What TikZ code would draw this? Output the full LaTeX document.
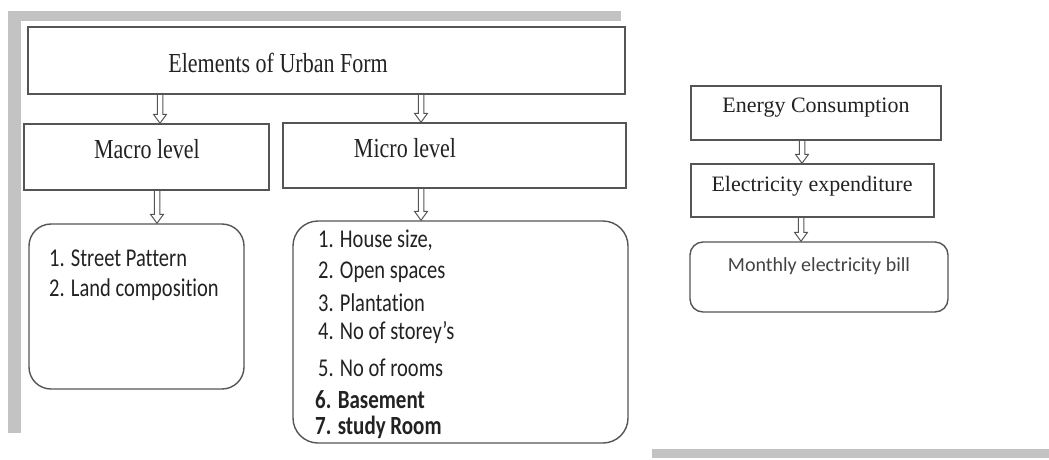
\documentclass[tikz,border=0pt]{standalone}
\usepackage{fontspec}
\usepackage{graphicx}
\setmainfont{Liberation Serif}
\newfontfamily\calfont[Ligatures=NoCommon]{Carlito}
\usetikzlibrary{calc}
\definecolor{framegray}{HTML}{C3C3C3}
\definecolor{edge}{HTML}{555555}
\definecolor{ink}{HTML}{222222}
\newcommand\vstretch[1]{\scalebox{1}[1.25]{#1}}
\newcommand\hdown[3]{%
 \path (#2.south -| #1) coordinate (hs) (#3.north -| #1) coordinate (he);
 \draw[arrowline] ([xshift=-2.75pt]hs) -- ([xshift=-2.75pt,yshift=9pt]he) -- ([xshift=-6.5pt,yshift=9pt]he) -- (he) -- ([xshift=6.5pt,yshift=9pt]he) -- ([xshift=2.75pt,yshift=9pt]he) -- ([xshift=2.75pt]hs);}
\begin{document}
\begin{tikzpicture}[x=1pt,y=-1pt,
 box/.style={draw=edge,line width=1.4pt,inner sep=0pt},
 rbox/.style={box,rounded corners=22pt},
 serif/.style={font=\fontsize{22}{26}\selectfont,text=ink,inner sep=0pt},
 sans/.style={font=\calfont\fontsize{20.5}{24}\selectfont,text=ink,inner sep=0pt,anchor=west},
 sansb/.style={font=\calfont\bfseries\fontsize{21}{24}\selectfont,text=ink,inner sep=0pt,anchor=west},
 arrowline/.style={draw=edge,line width=1pt}]
\useasboundingbox (0,0) rectangle (1049,459);
% gray frame
\fill[framegray] (8,11) rectangle (621,21);
\fill[framegray] (8,11) rectangle (21,433);
\fill[framegray] (652,449) rectangle (1049,458);
% boxes
\node[box,minimum width=597,minimum height=67] (elem) at (326.5,60.5) {};
\node[box,minimum width=245,minimum height=66] (macro) at (146.5,157) {};
\node[box,minimum width=343,minimum height=65] (micro) at (454.5,155.5) {};
\node[rbox,minimum width=215,minimum height=165] (macrolist) at (136.5,306.5) {};
\node[rbox,rounded corners=25pt,minimum width=335,minimum height=222] (microlist) at (460.5,332) {};
\node[box,minimum width=250,minimum height=54] (energy) at (816,113) {};
\node[box,minimum width=243,minimum height=53] (expend) at (812.5,190.5) {};
\node[box,rounded corners=13pt,minimum width=258,minimum height=70] (bill) at (819,277) {};
% texts
\node[serif] (elemT) at (278,63) {\vstretch{Elements of Urban Form}};
\node[serif] (macroT) at (147,149) {\vstretch{Macro level}};
\node[serif] (microT) at (405,148) {\vstretch{Micro level}};
\node[sans] (m1) at (49,258) {\vstretch{1. Street Pattern}};
\node[sans] (m2) at (49,290) {\vstretch{2. Land composition}};
\node[sans] (u1) at (318,240) {\vstretch{1. House size,}};
\node[sans] (u2) at (318,272) {\vstretch{2. Open spaces}};
\node[sans] (u3) at (318,303) {\vstretch{3. Plantation}};
\node[sans] (u4) at (318,333) {\vstretch{4. No of storey’s}};
\node[sans] (u5) at (318,368) {\vstretch{5. No of rooms}};
\node[sansb] (u6) at (315,400) {\vstretch{6. Basement}};
\node[sansb] (u7) at (315,427) {\vstretch{7. study Room}};
\node[serif] (energyT) at (816,108) {Energy Consumption};
\node[serif] (expendT) at (812,186) {Electricity expenditure};
\node[font=\calfont\fontsize{20}{24}\selectfont,text=ink!85,inner sep=0pt] (billT) at (819,266) {Monthly electricity bill};
% arrow x positions
\coordinate (xa) at (160,0);
\coordinate (xb) at (421,0);
\coordinate (xc) at (157,0);
\coordinate (xd) at (421,0);
\coordinate (xe) at (802,0);
\coordinate (xf) at (801,0);
\hdown{xa}{elem}{macro}
\hdown{xb}{elem}{micro}
\hdown{xc}{macro}{macrolist}
\hdown{xd}{micro}{microlist}
\hdown{xe}{energy}{expend}
\hdown{xf}{expend}{bill}
\end{tikzpicture}
\end{document}
